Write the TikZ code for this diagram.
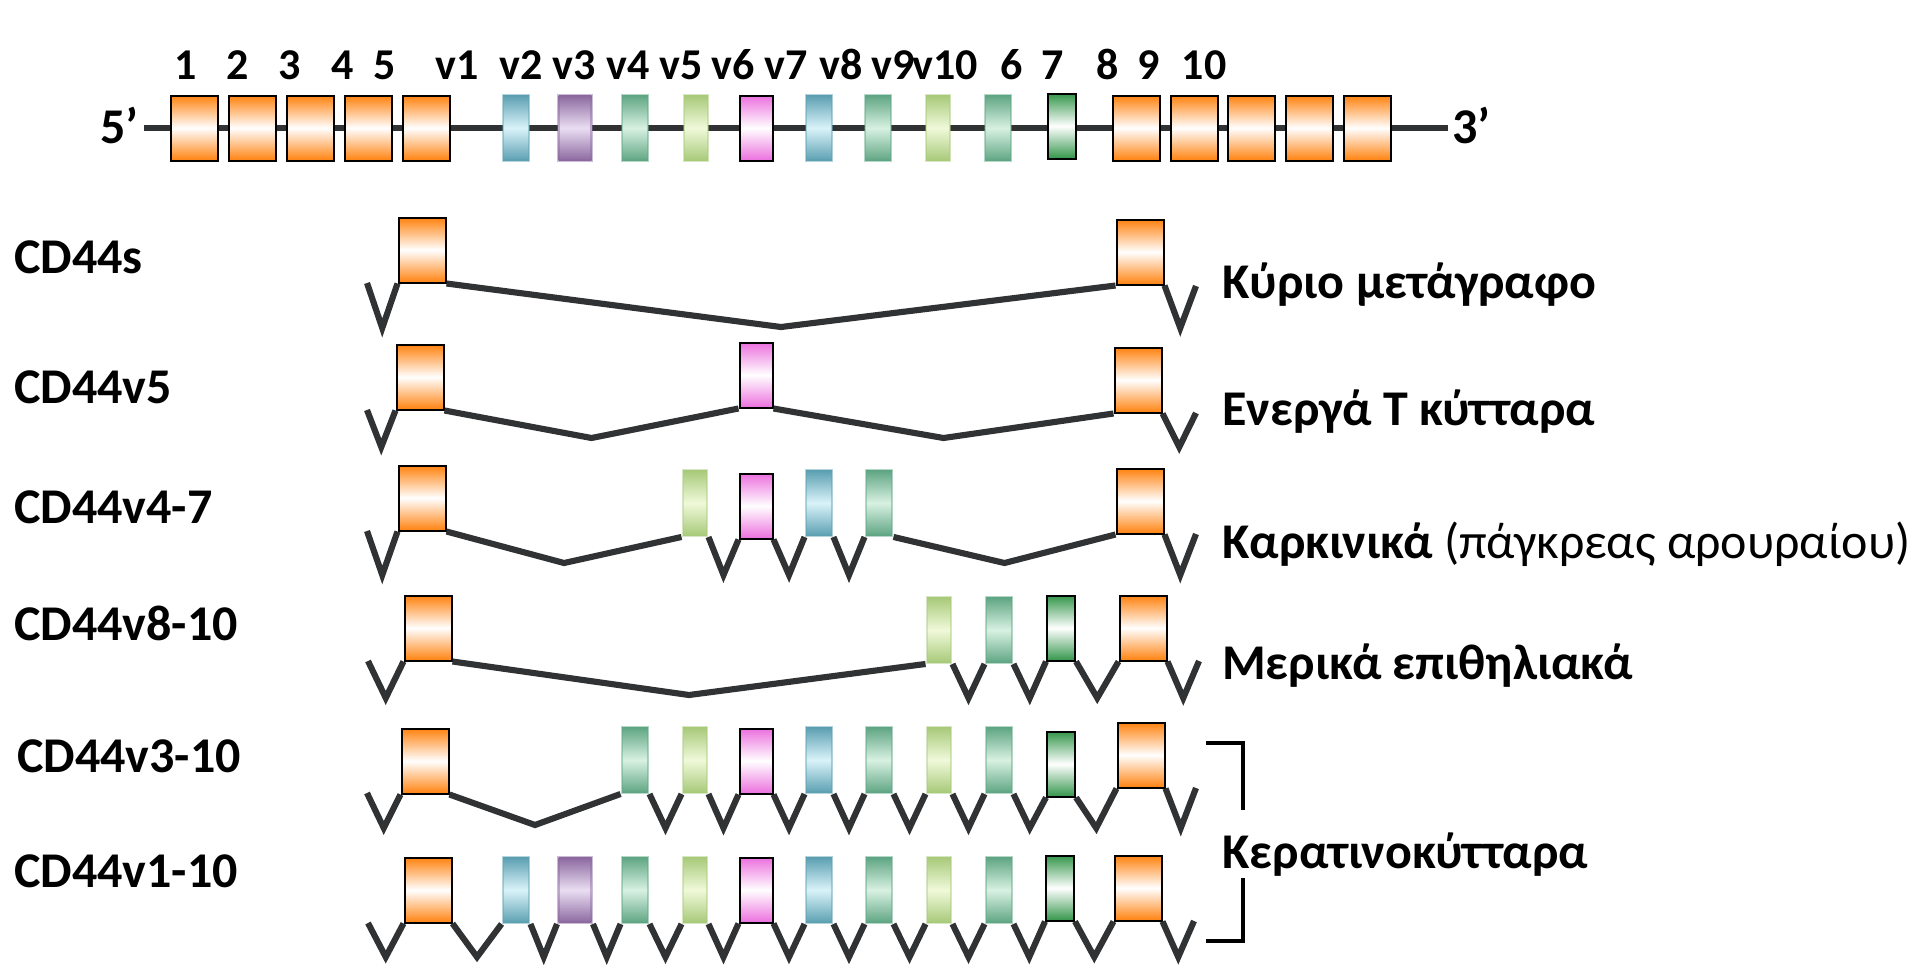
\documentclass[tikz,border=0pt]{standalone}
\usepackage{fontspec}
\setmainfont{Carlito}
\usetikzlibrary{calc}

% exon colours
\definecolor{exorange}{RGB}{255,130,15}
\definecolor{expink}{RGB}{236,112,222}
\definecolor{exdgreen}{RGB}{52,150,75}
\definecolor{cyanE}{RGB}{92,160,178}
\definecolor{cyanM}{RGB}{218,243,249}
\definecolor{purE}{RGB}{140,105,160}
\definecolor{purM}{RGB}{234,222,242}
\definecolor{tealE}{RGB}{96,166,132}
\definecolor{tealM}{RGB}{216,241,226}
\definecolor{lgE}{RGB}{168,202,122}
\definecolor{lgM}{RGB}{240,249,218}
\definecolor{intronC}{RGB}{48,50,52}

\tikzset{
  exon/.style={rectangle, inner sep=0pt, minimum height=48.75pt},
  oex/.style={exon, minimum width=35.25pt, draw=black, line width=1.5pt,
    top color=exorange, bottom color=exorange, middle color=white},
  pex/.style={exon, minimum width=24.75pt, draw=black, line width=1.5pt,
    top color=expink, bottom color=expink, middle color=white},
  gex/.style={exon, minimum width=21pt, draw=black, line width=1.5pt,
    top color=exdgreen, bottom color=exdgreen, middle color=white},
  soft/.style={exon, line width=2.2pt, draw opacity=.45},
  cex/.style={soft, minimum width=19.5pt, draw=cyanE,
    top color=cyanE, bottom color=cyanE, middle color=cyanM},
  uex/.style={soft, minimum width=24.75pt, draw=purE,
    top color=purE, bottom color=purE, middle color=purM},
  tex/.style={soft, minimum width=19.5pt, draw=tealE,
    top color=tealE, bottom color=tealE, middle color=tealM},
  lex/.style={soft, minimum width=18pt, draw=lgE,
    top color=lgE, bottom color=lgE, middle color=lgM},
  intron/.style={draw=intronC, line width=4.6pt},
  gene/.style={draw=intronC, line width=4.4pt},
  bracketline/.style={draw=black, line width=3.4pt},
  rowlab/.style={inner sep=0pt, anchor=base west,
    font=\fontsize{37.5}{40}\selectfont\bfseries},
  celllab/.style={inner sep=0pt, anchor=base west,
    font=\fontsize{37.5}{40}\selectfont\bfseries},
  toplab/.style={inner sep=0pt, anchor=base,
    font=\fontsize{33}{35}\selectfont\bfseries},
}

% intron between two splice points, dipping down to the level #3
\newcommand\vjoin[3]{%
  \path ($(#1)!.5!(#2)$) coordinate (vmid);
  \draw[intron] (#1) -- (vmid |- 0,#3) -- (#2);}

\begin{document}
\begin{tikzpicture}[x=0.75pt, y=-0.75pt]
\useasboundingbox (0,0) rectangle (1913,964);

% ---------------- gene structure ----------------
\node[celllab] (p5) at (100,143) {5’};
\node[celllab] (p3) at (1452,143) {3’};
\coordinate (g5) at (144,128);
\coordinate (g3) at (1448,128);
\draw[gene] (g5) -- (g3);

\node[oex] (c1) at (194,128) {};
\node[oex] (c2) at (252,128) {};
\node[oex] (c3) at (310,128) {};
\node[oex] (c4) at (368,128) {};
\node[oex] (c5) at (426,128) {};
\node[cex] (cv2) at (516,128) {};
\node[uex] (cv3) at (575,128) {};
\node[tex] (cv4) at (635,128) {};
\node[lex] (cv5) at (696,128) {};
\node[pex] (cv6) at (756,128) {};
\node[cex] (cv7) at (819,128) {};
\node[tex] (cv8) at (878,128) {};
\node[lex] (cv9) at (938,128) {};
\node[tex] (cv10) at (998,128) {};
\node[gex] (c7) at (1062,126) {};
\node[oex] (c8) at (1136,128) {};
\node[oex] (c9) at (1194,128) {};
\node[oex] (c10) at (1251,128) {};
\node[oex] (c11) at (1309,128) {};
\node[oex] (c12) at (1367,128) {};

\node[toplab] (t1) at (186,79) {1};
\node[toplab] (t2) at (238,79) {2};
\node[toplab] (t3) at (290,79) {3};
\node[toplab] (t4) at (343,79) {4};
\node[toplab] (t5) at (385,79) {5};
\node[toplab] (tv1) at (457,79) {v1};
\node[toplab] (tv2) at (521,79) {v2};
\node[toplab] (tv3) at (574,79) {v3};
\node[toplab] (tv4) at (628,79) {v4};
\node[toplab] (tv5) at (681,79) {v5};
\node[toplab] (tv6) at (733,79) {v6};
\node[toplab] (tv7) at (786,79) {v7};
\node[toplab] (tv8) at (841,79) {v8};
\node[toplab] (tv9) at (893,79) {v9};
\node[toplab] (tv10) at (945,79) {v10};
\node[toplab] (t6) at (1012,79) {6};
\node[toplab] (t7) at (1053,79) {7};
\node[toplab] (t8) at (1108,79) {8};
\node[toplab] (t9) at (1149,79) {9};
\node[toplab] (t10) at (1204,79) {10};

% ---------------- CD44s ----------------
\node[rowlab] (ls) at (14,273) {CD44s};
\node[oex] (sa) at (422,250) {};
\node[oex] (sb) at (1140,252) {};
\coordinate (sl) at (367,283);
\coordinate (sr) at (1196,286);
\vjoin{sl}{sa.south west}{328}
\vjoin{sa.south east}{sb.south west}{327}
\vjoin{sb.south east}{sr}{328}
\node[celllab] (ks) at (1222,298) {Κύριο μετάγραφο};

% ---------------- CD44v5 ----------------
\node[rowlab] (lv5) at (14,403) {CD44v5};
\node[oex] (va) at (420,377) {};
\node[pex] (v6b) at (756,375) {};
\node[oex] (vb) at (1138,380) {};
\coordinate (vl) at (367,410);
\coordinate (vr) at (1196,413);
\vjoin{vl}{va.south west}{447}
\vjoin{va.south east}{v6b.south west}{438}
\vjoin{v6b.south east}{vb.south west}{438}
\vjoin{vb.south east}{vr}{447}
\node[celllab] (kv5) at (1222,425) {Ενεργά Τ κύτταρα};

% ---------------- CD44v4-7 ----------------
\node[rowlab] (lv47) at (14,523) {CD44v4-7};
\node[oex] (wa) at (422,498) {};
\node[lex] (w5) at (695,503) {};
\node[pex] (w6) at (756,506) {};
\node[cex] (w7) at (819,503) {};
\node[tex] (w8) at (879,503) {};
\node[oex] (wb) at (1140,501) {};
\coordinate (wl) at (367,531);
\coordinate (wr) at (1196,534);
\vjoin{wl}{wa.south west}{575}
\vjoin{wa.south east}{w5.south west}{563}
\vjoin{w5.south east}{w6.south west}{575}
\vjoin{w6.south east}{w7.south west}{575}
\vjoin{w7.south east}{w8.south west}{575}
\vjoin{w8.south east}{wb.south west}{563}
\vjoin{wb.south east}{wr}{575}
\node[celllab] (kv47) at (1222,558) {Καρκινικά \mdseries(πάγκρεας αρουραίου)};

% ---------------- CD44v8-10 ----------------
\node[rowlab] (lv810) at (14,640) {CD44v8-10};
\node[oex] (xa) at (428,628) {};
\node[lex] (x9) at (939,630) {};
\node[tex] (x10) at (999,630) {};
\node[gex] (x7) at (1061,628) {};
\node[oex] (xb) at (1143,628) {};
\coordinate (xl) at (368,661);
\coordinate (xr) at (1199,661);
\vjoin{xl}{xa.south west}{698}
\vjoin{xa.south east}{x9.south west}{695}
\vjoin{x9.south east}{x10.south west}{698}
\vjoin{x10.south east}{x7.south west}{698}
\vjoin{x7.south east}{xb.south west}{698}
\vjoin{xb.south east}{xr}{698}
\node[celllab] (kv810) at (1222,679) {Μερικά επιθηλιακά};

% ---------------- CD44v3-10 ----------------
\node[rowlab] (lv310) at (17,772) {CD44v3-10};
\node[oex] (ya) at (425,761) {};
\node[tex] (y4) at (635,760) {};
\node[lex] (y5) at (695,760) {};
\node[pex] (y6) at (756,761) {};
\node[cex] (y7) at (819,760) {};
\node[tex] (y8) at (879,760) {};
\node[lex] (y9) at (939,760) {};
\node[tex] (y10) at (999,760) {};
\node[gex] (y7g) at (1061,764) {};
\node[oex] (yb) at (1141,755) {};
\coordinate (yl) at (367,793);
\coordinate (yr) at (1196,788);
\vjoin{yl}{ya.south west}{828}
\vjoin{ya.south east}{y4.south west}{825}
\vjoin{y4.south east}{y5.south west}{828}
\vjoin{y5.south east}{y6.south west}{828}
\vjoin{y6.south east}{y7.south west}{828}
\vjoin{y7.south east}{y8.south west}{828}
\vjoin{y8.south east}{y9.south west}{828}
\vjoin{y9.south east}{y10.south west}{828}
\vjoin{y10.south east}{y7g.south west}{828}
\vjoin{y7g.south east}{yb.south west}{828}
\vjoin{yb.south east}{yr}{828}

% ---------------- CD44v1-10 ----------------
\node[rowlab] (lv110) at (14,887) {CD44v1-10};
\node[oex] (za) at (428,890) {};
\node[cex] (z2) at (516,890) {};
\node[uex] (z3) at (575,890) {};
\node[tex] (z4) at (635,890) {};
\node[lex] (z5) at (695,890) {};
\node[pex] (z6) at (756,890) {};
\node[cex] (z7) at (819,890) {};
\node[tex] (z8) at (879,890) {};
\node[lex] (z9) at (939,890) {};
\node[tex] (z10) at (999,890) {};
\node[gex] (z7g) at (1060,888) {};
\node[oex] (zb) at (1138,888) {};
\coordinate (zl) at (368,923);
\coordinate (zr) at (1194,921);
\vjoin{zl}{za.south west}{957}
\vjoin{za.south east}{z2.south west}{957}
\vjoin{z2.south east}{z3.south west}{957}
\vjoin{z3.south east}{z4.south west}{957}
\vjoin{z4.south east}{z5.south west}{957}
\vjoin{z5.south east}{z6.south west}{957}
\vjoin{z6.south east}{z7.south west}{957}
\vjoin{z7.south east}{z8.south west}{957}
\vjoin{z8.south east}{z9.south west}{957}
\vjoin{z9.south east}{z10.south west}{957}
\vjoin{z10.south east}{z7g.south west}{957}
\vjoin{z7g.south east}{zb.south west}{957}
\vjoin{zb.south east}{zr}{957}

% keratinocyte bracket and label
\coordinate (kt1) at (1206,743);
\coordinate (kt2) at (1243,743);
\coordinate (kt3) at (1243,810);
\coordinate (kb1) at (1243,878);
\coordinate (kb2) at (1243,941);
\coordinate (kb3) at (1206,941);
\draw[bracketline] (kt1) -- (kt2) -- (kt3);
\draw[bracketline] (kb1) -- (kb2) -- (kb3);
\node[celllab] (kker) at (1222,868) {Κερατινοκύτταρα};
\end{tikzpicture}
\end{document}
